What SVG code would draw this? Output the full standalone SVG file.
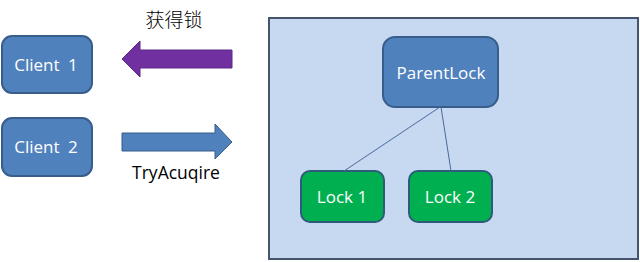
<svg xmlns="http://www.w3.org/2000/svg" width="640" height="262" viewBox="0 0 640 262">
<style>
.t{font-family:"Open Sans","Liberation Sans",sans-serif;fill:#fff;text-anchor:middle;font-size:17px}
.k{font-family:"Open Sans","Liberation Sans","Noto Sans CJK SC",sans-serif;fill:#000;text-anchor:middle}
.blue{fill:#4F81BD;stroke:#385D8A;stroke-width:2}
.green{fill:#00B050;stroke:#2F5B7A;stroke-width:2}
</style>
<rect width="640" height="262" fill="#fff"/>
<g id="container"><rect x="269" y="18" width="369" height="241" fill="#C6D9F1" stroke="#44546A" stroke-width="2"/></g>
<g id="client1"><rect class="blue" x="2" y="36" width="90" height="57" rx="10"/><text class="t" x="46" y="71" word-spacing="4">Client 1</text></g>
<g id="client2"><rect class="blue" x="2" y="118" width="90" height="58" rx="10"/><text class="t" x="46" y="153" word-spacing="4">Client 2</text></g>
<g id="parentlock"><rect class="blue" x="383" y="37" width="115" height="70" rx="12"/><text class="t" x="441" y="79">ParentLock</text></g>
<g id="lock1"><rect class="green" x="301" y="171" width="83" height="51" rx="9"/><text class="t" x="342" y="203">Lock 1</text></g>
<g id="lock2"><rect class="green" x="409" y="171" width="83" height="51" rx="9"/><text class="t" x="450" y="203">Lock 2</text></g>
<g id="connectors">
<line x1="440" y1="107" x2="344" y2="171" stroke="#4A6A9A" stroke-width="1"/>
<line x1="441" y1="107" x2="451" y2="171" stroke="#4A6A9A" stroke-width="1"/>
<polygon points="122,59 140,41 140,50 232,50 232,68 140,68 140,77" fill="#7030A0" stroke="#5A2A86" stroke-width="1"/>
<polygon points="122,133 215,133 215,124 232,142 215,159 215,151 122,151" fill="#4F81BD" stroke="#385D8A" stroke-width="1"/>
</g>
<text class="k" x="174" y="27" font-size="19" font-weight="300">获得锁</text>
<text class="k" x="176" y="179" font-size="17.5">TryAcuqire</text>
</svg>
